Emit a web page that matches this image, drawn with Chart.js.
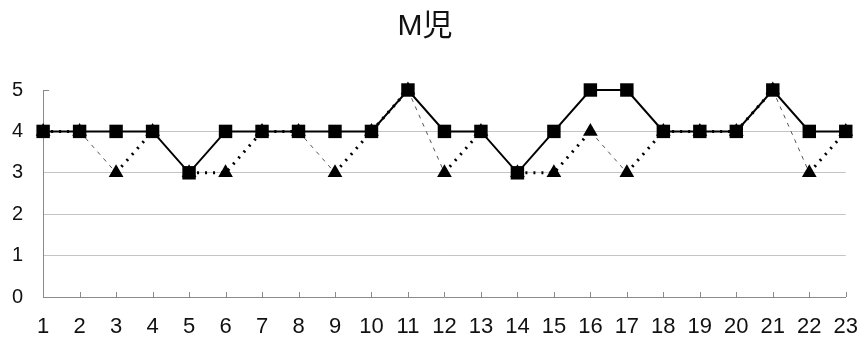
<!DOCTYPE html>
<html>
<head>
<meta charset="utf-8">
<script src="https://cdn.jsdelivr.net/npm/chart.js@4/dist/chart.umd.min.js"></script>
<style>
  html, body { margin: 0; padding: 0; background: #fff; }
  #wrap { width: 858px; height: 340px; }
</style>
</head>
<body>
<div id="wrap"><canvas id="chart" width="858" height="340"></canvas></div>
<script>
const days = ['1','2','3','4','5','6','7','8','9','10','11','12','13','14','15','16','17','18','19','20','21','22','23'];
const squareVals = [4,4,4,4,3,4,4,4,4,4,5,4,4,3,4,5,5,4,4,4,5,4,4];
const triangleVals = [4,4,3,4,3,3,4,4,3,4,5,3,4,3,3,4,3,4,4,4,5,3,4];
const yTicks = [0,1,2,3,4,5];

const fontFamily = '"Liberation Sans", Arial, "Noto Sans CJK JP", sans-serif';

// Excel style inside tick marks
const insideTicks = {
    id: 'insideTicks',
    afterDatasetsDraw(chart) {
        const ctx = chart.ctx;
        const x = chart.scales.x;
        const y = chart.scales.y;
        ctx.save();
        ctx.strokeStyle = '#8a8a8a';
        ctx.lineWidth = 1;
        ctx.beginPath();
        days.forEach((d, i) => {
            if (i === 0) return;
            const px = Math.round(x.getPixelForValue(i)) + 0.5;
            ctx.moveTo(px, y.bottom);
            ctx.lineTo(px, y.bottom - 5);
        });
        const top = Math.round(y.getPixelForValue(5)) + 0.5;
        ctx.moveTo(x.left, top);
        ctx.lineTo(x.left + 6, top);
        ctx.stroke();
        ctx.restore();
    }
};

new Chart(document.getElementById('chart'), {
    type: 'line',
    data: {
        labels: days,
        datasets: [{
            data: squareVals,
            borderColor: '#000',
            backgroundColor: '#000',
            borderWidth: 2,
            pointStyle: 'rect',
            pointRadius: 9.5,
            pointBorderWidth: 0,
            tension: 0,
            clip: false
        }, {
            data: triangleVals,
            borderColor: '#000',
            backgroundColor: '#000',
            borderWidth: 3,
            borderDash: [2, 6],
            pointStyle: 'triangle',
            pointRadius: 8.5,
            pointBorderWidth: 0,
            tension: 0,
            clip: false,
            segment: {
                borderWidth: c => c.p1.parsed.y < c.p0.parsed.y ? 1 : 3,
                borderDash: c => c.p1.parsed.y < c.p0.parsed.y ? [4, 5] : [2, 6],
                borderColor: c => c.p1.parsed.y < c.p0.parsed.y ? '#555' : '#000'
            }
        }]
    },
    options: {
        responsive: false,
        animation: false,
        // scales reserve ticks.padding twice, so trim it here
        layout: { autoPadding: false, padding: { left: -8, right: 0, top: 0, bottom: -17 } },
        plugins: {
            legend: { display: false },
            tooltip: { enabled: false },
            title: {
                display: true,
                text: 'M児',
                color: '#111',
                font: { family: fontFamily, size: 30, weight: 'normal' },
                padding: { top: 9, bottom: 45 }
            }
        },
        scales: {
            x: {
                offset: false,
                grid: { display: false, drawTicks: false },
                border: { display: true, color: '#8a8a8a', width: 1 },
                ticks: {
                    color: '#111',
                    padding: 0,
                    maxRotation: 0,
                    autoSkip: false,
                    // tall line box pushes the labels down without the padding
                    font: { family: fontFamily, size: 22, lineHeight: '60px' }
                }
            },
            y: {
                min: 0,
                max: 5,
                afterBuildTicks: s => { s.ticks = yTicks.map(v => ({ value: v })); },
                grid: {
                    drawTicks: false,
                    color: c => (c.tick.value === 0 || c.tick.value === 5) ? 'rgba(0,0,0,0)' : '#c4c4c4'
                },
                border: { display: true, color: '#8a8a8a', width: 1 },
                ticks: {
                    color: '#111',
                    padding: 20,
                    font: { family: fontFamily, size: 20 }
                }
            }
        }
    },
    plugins: [insideTicks]
});
</script>
</body>
</html>
